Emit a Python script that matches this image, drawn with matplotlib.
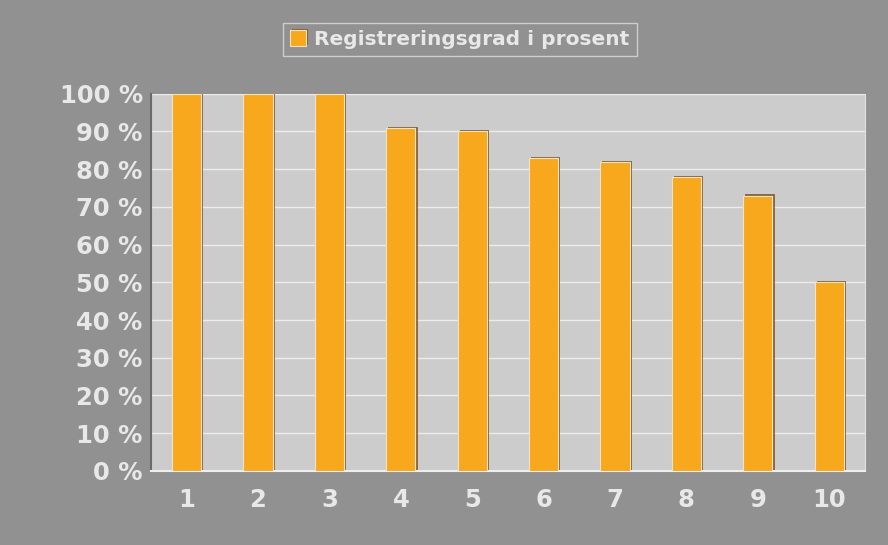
import matplotlib.pyplot as plt
import matplotlib.patheffects as pe

kategorier = ["1", "2", "3", "4", "5", "6", "7", "8", "9", "10"]
verdier = [100, 100, 100, 91, 90, 83, 82, 78, 73, 50]
yticks = [0, 10, 20, 30, 40, 50, 60, 70, 80, 90, 100]
ylabels = [f"{v} %" for v in yticks]

bakgrunn = "#919191"
plotflate = "#cccccc"
oransje = "#f8a81c"
tekst = "#e8e8e8"

fig = plt.figure(figsize=(8.88, 5.45), dpi=100, facecolor=bakgrunn)
ax = fig.add_axes([0.170, 0.136, 0.804, 0.692])
ax.set_facecolor(plotflate)

x = list(range(len(kategorier)))
bars = ax.bar(x, verdier, width=0.41, color=oransje, edgecolor="#f3e3c4",
              linewidth=0.8, label="Registreringsgrad i prosent", zorder=3)
for b in bars:
    b.set_path_effects([pe.SimplePatchShadow(offset=(1.5, 0.8), shadow_rgbFace="#7a5226", alpha=0.8),
                        pe.Normal()])

ax.set_xlim(-0.5, len(kategorier) - 0.5)
ax.set_ylim(0, 100)
ax.set_yticks(yticks)
ax.set_yticklabels(ylabels)
ax.set_xticks(x)
ax.set_xticklabels(kategorier)
ax.tick_params(length=0, labelcolor=tekst, pad=6)
ax.tick_params(axis="y", labelsize=17.5)
ax.tick_params(axis="x", labelsize=17.5, pad=12)
for lab in ax.get_xticklabels() + ax.get_yticklabels():
    lab.set_fontweight("bold")

ax.yaxis.grid(True, color="#ececec", linewidth=1.0, zorder=0)
ax.set_axisbelow(True)
ax.spines["left"].set_color("#6a6a6a")
ax.spines["left"].set_linewidth(1.5)
ax.spines["bottom"].set_color("#eeeeee")
ax.spines["bottom"].set_linewidth(1.5)
ax.spines["top"].set_visible(False)
ax.spines["right"].set_color("#e0e0e0")
ax.spines["right"].set_linewidth(0.8)

leg = fig.legend(loc="upper center", bbox_to_anchor=(0.518, 0.976), frameon=True,
                 fontsize=14.5, handlelength=0.8, handleheight=0.8, handletextpad=0.4,
                 borderpad=0.35, fancybox=False)
leg.get_frame().set_facecolor(bakgrunn)
leg.get_frame().set_edgecolor("#dddddd")
leg.get_frame().set_linewidth(1.0)
for t in leg.get_texts():
    t.set_color(tekst)
    t.set_fontweight("bold")

fig.savefig("out.png", dpi=100, facecolor=bakgrunn)
